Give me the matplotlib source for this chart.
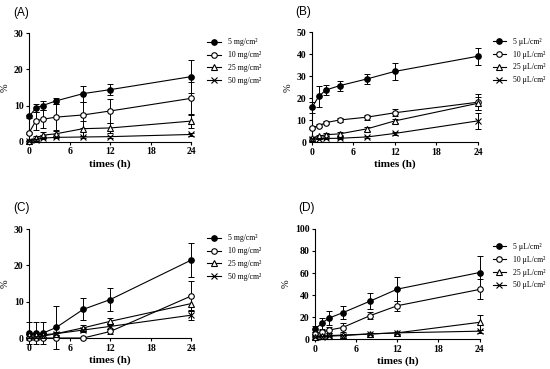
import matplotlib
matplotlib.use('Agg')
import matplotlib.pyplot as plt

plt.rcParams['font.family'] = ['Liberation Serif', 'DejaVu Serif']

# sampling times (h)
times = [0, 1, 2, 4, 8, 12, 24]

labels_mg = ['5 mg/cm²', '10 mg/cm²', '25 mg/cm²', '50 mg/cm²']
labels_ul = ['5 \u03bcL/cm²', '10 \u03bcL/cm²', '25 \u03bcL/cm²', '50 \u03bcL/cm²']

# panel A
a_mean = [
    [7.0, 9.3, 10.0, 11.3, 13.3, 14.4, 18.0],
    [2.5, 5.8, 6.2, 6.8, 7.4, 8.5, 12.0],
    [0.3, 1.0, 1.8, 2.2, 3.6, 3.8, 5.7],
    [0.2, 0.6, 1.0, 1.2, 1.3, 1.4, 2.0],
]
a_err = [
    [0.5, 1.0, 1.3, 0.8, 2.2, 1.6, 4.6],
    [0.3, 2.5, 2.5, 3.5, 3.7, 3.2, 4.5],
    [0.2, 0.5, 0.8, 0.8, 2.0, 1.5, 2.0],
    [0.1, 0.2, 0.3, 0.3, 0.3, 0.3, 0.3],
]

# panel B
b_mean = [
    [15.9, 20.9, 23.8, 25.8, 28.9, 32.3, 39.2],
    [6.7, 7.6, 9.0, 10.2, 11.5, 13.5, 18.3],
    [2.0, 2.8, 3.5, 3.9, 6.2, 9.8, 17.8],
    [1.5, 1.7, 1.8, 1.9, 2.5, 4.1, 9.8],
]
b_err = [
    [2.5, 4.6, 2.3, 2.2, 2.3, 4.0, 3.8],
    [0.5, 0.6, 0.7, 0.8, 1.2, 1.5, 3.5],
    [0.5, 0.8, 0.8, 0.9, 0.8, 0.8, 3.0],
    [0.3, 0.3, 0.3, 0.3, 0.5, 0.6, 3.7],
]

# panel C
c_mean = [
    [1.3, 1.3, 1.3, 2.9, 7.9, 10.6, 21.5],
    [0.0, 0.0, 0.0, 0.0, 0.0, 1.8, 11.6],
    [0.9, 0.9, 0.9, 1.2, 2.8, 4.6, 9.5],
    [0.3, 0.3, 0.5, 1.2, 2.2, 3.2, 6.3],
]
c_err = [
    [3.0, 3.0, 3.0, 5.8, 3.0, 3.1, 4.8],
    [0.0, 0.0, 0.0, 0.0, 0.0, 0.8, 4.2],
    [0.2, 0.2, 0.2, 0.4, 0.8, 1.0, 2.0],
    [0.1, 0.1, 0.2, 0.3, 0.6, 0.7, 1.3],
]

# panel D
d_mean = [
    [9.6, 14.8, 19.3, 24.1, 34.6, 45.5, 60.5],
    [5.0, 6.5, 8.5, 10.8, 21.5, 30.5, 45.2],
    [2.5, 3.0, 3.5, 4.0, 5.0, 6.0, 15.5],
    [2.0, 2.5, 3.0, 3.5, 5.0, 6.0, 7.5],
]
d_err = [
    [3.0, 5.0, 6.0, 6.0, 7.5, 11.0, 14.5],
    [1.5, 2.5, 3.0, 4.0, 3.0, 4.5, 9.0],
    [0.5, 0.5, 0.6, 0.8, 1.0, 1.0, 6.5],
    [0.3, 0.4, 0.5, 0.5, 0.6, 0.8, 1.5],
]

styles = [
    dict(marker='o', mfc='black', ms=4),
    dict(marker='o', mfc='white', ms=4),
    dict(marker='^', mfc='white', ms=4),
    dict(marker='x', mfc='black', ms=4),
]


def draw_panel(ax, means, errs, labels, ymax, ystep, tag, leg_x, leg_y):
    for i, (m, e, lab, st) in enumerate(zip(means, errs, labels, styles)):
        ax.errorbar(times, m, yerr=e, fmt='none', ecolor='black',
                    elinewidth=0.7, capsize=2, capthick=0.7,
                    clip_on=False, zorder=2)
        ax.plot(times, m, color='black', mec='black', lw=0.8, mew=0.8,
                label=lab, clip_on=False, zorder=3 + i, **st)
    ax.set_xlim(0, 24)
    ax.set_ylim(0, ymax)
    ax.set_xticks([0, 6, 12, 18, 24])
    ax.set_yticks(range(0, ymax + 1, ystep))
    for s in ['top', 'right']:
        ax.spines[s].set_visible(False)
    for s in ['left', 'bottom']:
        ax.spines[s].set_linewidth(0.8)
    ax.tick_params(labelsize=7, width=0.8, length=2.5, pad=1.5)
    for t in ax.get_xticklabels() + ax.get_yticklabels():
        t.set_fontweight('bold')
    ax.set_xlabel('times (h)', fontsize=8, fontweight='bold', labelpad=2)
    ax.set_ylabel('%', fontsize=7.5, labelpad=3)
    ax.legend(loc='upper left', bbox_to_anchor=(leg_x, leg_y), frameon=False,
              fontsize=5.6, handlelength=1.7, handletextpad=0.9,
              labelspacing=0.62, borderaxespad=0)
    ax.text(-0.1, 1.19, tag, transform=ax.transAxes, fontsize=8.5,
            family='Liberation Sans', ha='left', va='center')


fig = plt.figure(figsize=(5.5, 3.69), dpi=100)
axA = fig.add_axes([0.053, 0.616, 0.295, 0.294])
axB = fig.add_axes([0.567, 0.614, 0.302, 0.298])
axC = fig.add_axes([0.053, 0.084, 0.295, 0.295])
axD = fig.add_axes([0.573, 0.080, 0.299, 0.300])

draw_panel(axA, a_mean, a_err, labels_mg, 30, 10, '(A)', 1.08, 0.98)
draw_panel(axB, b_mean, b_err, labels_ul, 50, 10, '(B)', 1.07, 0.98)
draw_panel(axC, c_mean, c_err, labels_mg, 30, 10, '(C)', 1.08, 0.98)
draw_panel(axD, d_mean, d_err, labels_ul, 100, 20, '(D)', 1.06, 0.9)

fig.savefig('out.png', dpi=100)
